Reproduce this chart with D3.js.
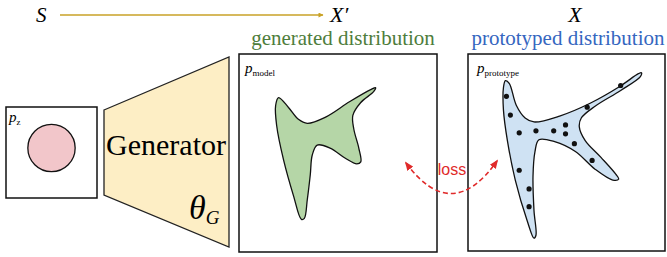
<!DOCTYPE html>
<html>
<head>
<meta charset="utf-8">
<script src="https://cdn.jsdelivr.net/npm/d3@7"></script>
<style>
  body { margin: 0; background: #fff; }
  svg { display: block; }
  .serif { font-family: "Liberation Serif", "DejaVu Serif", "Times New Roman", serif; }
  .sans { font-family: "Liberation Sans", Arial, sans-serif; }
</style>
</head>
<body>
<svg width="667" height="257"></svg>
<script>
// outlines in box units (0..100 of each panel)
var modelShape = [
  [20,22],[25,27],[30,33],[34.5,35],[43.5,32],[56,24],[66.5,18],[69,17],[68,19],
  [61.5,24.5],[57.5,31],[58,38],[60.5,47.5],[61.5,54.5],[59.5,55.5],
  [53.5,52.5],[46,47.5],[39.5,46],[37,51],[36,61],[34.5,73.5],[33,83],[31.5,83.5],
  [27.5,71.5],[22.5,53.5],[19,36],[18.5,26]
];
var protoShape = [
  [19,13.5],[21,15],[24.5,26],[29,32.5],[33.5,34.5],[46.5,31.5],[62,25],[77,16.5],[86.5,10],
  [88,9.5],[87.5,11.5],[77.5,18.5],[64.5,26.5],[57.5,32.5],[56.5,37],[59.5,44],[67.5,52.5],
  [75,61],[76.5,63.5],[73.5,64],[64.5,58.5],[54.5,49.5],[44,44.5],[36,43.5],[34,49.5],[33,62],
  [33.5,79.5],[34.5,92],[33.5,93.5],[30,84.5],[24,64],[20,44],[18,28.5],[18,17]
];
var protoDots = [
  [19.5,21.5],[21.5,31],[26,40],[34.5,39],[43.5,39],[49.5,36],[49.5,40.5],[54,45.5],
  [60.5,27],[77.5,16],[63,54],[26,59],[31,68.5],[31,77.5]
];
var latentCircle = { cx: 50, cy: 45, r: 26 };

var svg = d3.select("svg");

// markers
var defs = svg.append("defs");
defs.append("marker").attr("id", "gold").attr("viewBox", "0 0 10 10")
  .attr("refX", 9).attr("refY", 5).attr("markerWidth", 9).attr("markerHeight", 5)
  .attr("orient", "auto").attr("markerUnits", "userSpaceOnUse")
  .append("path").attr("d", "M0,0 L10,5 L0,10 Z").attr("fill", "#c9a227");
defs.append("marker").attr("id", "red").attr("viewBox", "0 0 10 10")
  .attr("refX", 8).attr("refY", 5).attr("markerWidth", 9).attr("markerHeight", 9)
  .attr("orient", "auto-start-reverse").attr("markerUnits", "userSpaceOnUse")
  .append("path").attr("d", "M0,1 L10,5 L0,9 Z").attr("fill", "#e02a2a");

function txt(x, y, size) {
  return svg.append("text").attr("class", "serif").attr("x", x).attr("y", y)
    .style("font-size", size + "px");
}

// top arrow S -> X'
txt(36, 22, 21).style("font-style", "italic").text("S");
svg.append("line").attr("x1", 60).attr("y1", 15).attr("x2", 323).attr("y2", 15)
  .attr("stroke", "#c9a227").attr("stroke-width", 1.6).attr("marker-end", "url(#gold)");

txt(330, 22, 22).style("font-style", "italic").text("X\u2032");
txt(575, 22, 22).attr("text-anchor", "middle").style("font-style", "italic").text("X");

txt(343, 45, 21).attr("text-anchor", "middle").attr("fill", "#4e7d3c")
  .text("generated distribution");
txt(568, 45, 21).attr("text-anchor", "middle").attr("fill", "#3566c0")
  .text("prototyped distribution");

// panels
function panel(x0, y0, size) {
  var g = svg.append("g");
  var sx = d3.scaleLinear().domain([0, 100]).range([x0, x0 + size]);
  var sy = d3.scaleLinear().domain([0, 100]).range([y0, y0 + size]);
  g.append("rect").attr("x", x0).attr("y", y0).attr("width", size).attr("height", size)
    .attr("fill", "#fff").attr("stroke", "#111").attr("stroke-width", 1.5);
  return { g: g, sx: sx, sy: sy };
}

function label(x, y, sub) {
  var t = txt(x, y, 15);
  t.append("tspan").style("font-style", "italic").text("p");
  t.append("tspan").style("font-size", "9px").attr("dy", 3).text(sub);
}

// latent box
var pz = panel(6, 107, 91);
pz.g.append("circle").attr("cx", pz.sx(latentCircle.cx)).attr("cy", pz.sy(latentCircle.cy))
  .attr("r", latentCircle.r * 0.91).attr("fill", "#f2c6ca").attr("stroke", "#111").attr("stroke-width", 1.3);
label(9, 122, "z");

// generator trapezoid
var gen = [[104, 110], [229, 57], [229, 247], [104, 195]];
svg.append("path").attr("d", d3.line()(gen) + "Z")
  .attr("fill", "#fdeec5").attr("stroke", "#222").attr("stroke-width", 1.3);
txt(166, 155, 30).attr("text-anchor", "middle").text("Generator");
var th = txt(189, 219, 34);
th.append("tspan").style("font-style", "italic").text("\u03b8");
th.append("tspan").style("font-style", "italic").style("font-size", "19px").attr("dy", 5).text("G");

var outline = d3.line().curve(d3.curveCatmullRomClosed.alpha(0.5));

// model panel
var pm = panel(239, 54, 198);
pm.g.append("path")
  .attr("d", outline(modelShape.map(function (d) { return [pm.sx(d[0]), pm.sy(d[1])]; })))
  .attr("fill", "#b5d6a7").attr("stroke", "#111").attr("stroke-width", 1.3);
label(245, 73, "model");

// prototype panel
var pp = panel(468, 54, 197);
pp.g.append("path")
  .attr("d", outline(protoShape.map(function (d) { return [pp.sx(d[0]), pp.sy(d[1])]; })))
  .attr("fill", "#cfe2f3").attr("stroke", "#111").attr("stroke-width", 1.3);
pp.g.selectAll("circle.dot").data(protoDots).enter().append("circle")
  .attr("class", "dot").attr("cx", d => pp.sx(d[0])).attr("cy", d => pp.sy(d[1]))
  .attr("r", 2.6).attr("fill", "#111");
label(477, 73, "prototype");

// loss arrow
svg.append("path").attr("d", "M406,163 Q452,225 497,161")
  .attr("fill", "none").attr("stroke", "#e02a2a").attr("stroke-width", 1.6)
  .attr("stroke-dasharray", "5,3")
  .attr("marker-start", "url(#red)").attr("marker-end", "url(#red)");
svg.append("text").attr("class", "sans").attr("x", 452).attr("y", 175)
  .attr("text-anchor", "middle").style("font-size", "16px")
  .attr("fill", "#e02a2a").text("loss");
</script>
</body>
</html>
